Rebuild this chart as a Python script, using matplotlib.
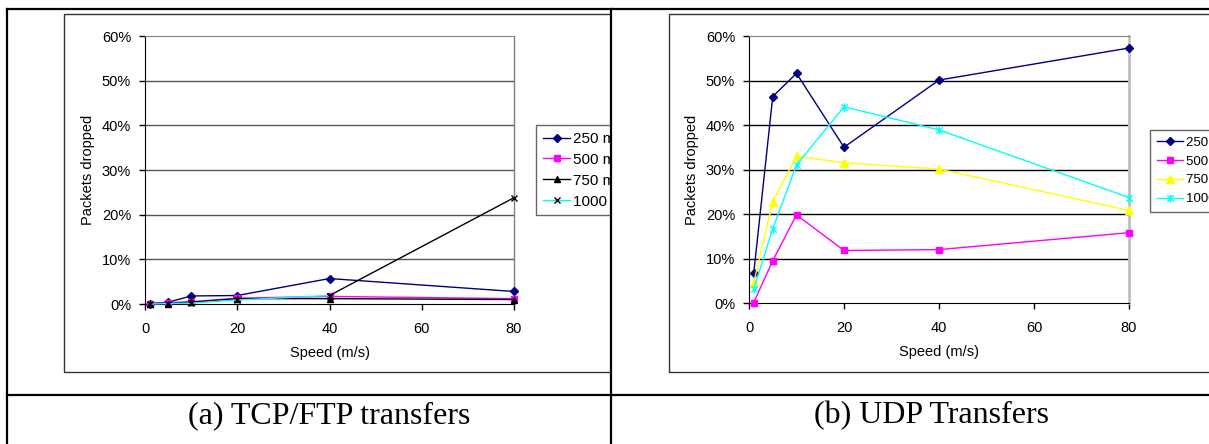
import matplotlib
matplotlib.use("Agg")
import matplotlib.pyplot as plt
from matplotlib.lines import Line2D
from matplotlib.patches import Rectangle
from matplotlib.path import Path
from matplotlib.ticker import FuncFormatter

# speeds (m/s) and packet loss (%) per transmission range
speeds = [1, 5, 10, 20, 40, 80]
ranges = ["250 m", "500 m", "750 m", "1000 m"]

tcp_250 = [0.1, 0.4, 1.8, 1.9, 5.7, 2.8]
tcp_500 = [0.1, 0.3, 0.5, 1.3, 1.7, 1.2]
tcp_750 = [0.0, 0.1, 0.4, 1.2, 1.2, 1.0]
tcp_1000 = [0.0, 0.1, 0.2, 0.9, 1.9, 23.8]

udp_250 = [6.7, 46.4, 51.6, 35.0, 50.1, 57.3]
udp_500 = [0.1, 9.5, 19.8, 11.8, 12.0, 15.8]
udp_750 = [4.6, 22.8, 33.0, 31.5, 30.1, 20.8]
udp_1000 = [3.1, 16.7, 31.0, 44.1, 38.9, 23.7]

captions = ["(a) TCP/FTP transfers", "(b) UDP Transfers"]

W, H = 1209, 444
plt.rcParams['font.family'] = ['Liberation Sans', 'DejaVu Sans']

fig = plt.figure(figsize=(W / 100, H / 100), dpi=100)


def fx(px):
    return px / W


def fy(py):
    return 1 - py / H


# Excel style "star" marker: an x with a vertical bar through it
star = Path([(-1, -1), (1, 1), (-1, 1), (1, -1), (0, -1.3), (0, 1.3)],
            [Path.MOVETO, Path.LINETO, Path.MOVETO, Path.LINETO, Path.MOVETO, Path.LINETO])


def style_axes(ax, grid_color, right_color, right_lw):
    ax.set_xlim(0, 80)
    ax.set_ylim(0, 60)
    ax.set_xticks([0, 20, 40, 60, 80])
    ax.set_yticks(range(0, 61, 10))
    ax.yaxis.set_major_formatter(FuncFormatter(lambda v, p: f"{v:.0f}%"))
    ax.tick_params(direction='out', length=4, width=1, labelsize=10.5, pad=6)
    ax.tick_params(axis='x', pad=9)
    for y in range(10, 60, 10):
        ax.axhline(y, color=grid_color, lw=1, zorder=1)
    ax.spines['left'].set_color('black')
    ax.spines['bottom'].set_color('black')
    ax.spines['top'].set_color('#808080')
    ax.spines['right'].set_color(right_color)
    ax.spines['right'].set_linewidth(right_lw)
    ax.set_xlabel("Speed (m/s)", fontsize=10.5, labelpad=7)
    ax.set_ylabel("Packets dropped", fontsize=10.5, labelpad=5)


# left chart: TCP/FTP
axL = fig.add_axes([fx(145), fy(304), fx(514) - fx(145), fy(36) - fy(304)])
style_axes(axL, '#555555', '#808080', 1)
kw = dict(lw=1, clip_on=False, zorder=3)
axL.plot(speeds, tcp_250, color='#000080', marker='D', ms=4.5, label=ranges[0], **kw)
axL.plot(speeds, tcp_500, color='#FF00FF', marker='s', ms=4.5, label=ranges[1], **kw)
axL.plot(speeds, tcp_750, color='black', marker='^', ms=5, label=ranges[2], **kw)
# last segment of the 1000 m series is drawn in black
axL.plot(speeds[:-1], tcp_1000[:-1], color='#00FFFF', marker='x', ms=5, mec='black', mew=1,
         label=ranges[3], **kw)
axL.plot(speeds[-2:], tcp_1000[-2:], color='black', marker='x', ms=5, **kw)
axL.legend(loc='upper left', bbox_to_anchor=(fx(536), fy(125)),
           bbox_transform=fig.transFigure, fontsize=11, frameon=True, fancybox=False,
           edgecolor='#404040', handlelength=1.8, handletextpad=0.2, labelspacing=0.45,
           borderpad=0.45, borderaxespad=0).get_frame().set_linewidth(1)

# right chart: UDP
axR = fig.add_axes([fx(749), fy(303), fx(1129) - fx(749), fy(36) - fy(303)])
style_axes(axR, 'black', '#C0C0C0', 2)
axR.plot(speeds, udp_250, color='#000080', marker='D', ms=4.5, label=ranges[0], **kw)
axR.plot(speeds, udp_500, color='#FF00FF', marker='s', ms=4.5, label=ranges[1], **kw)
axR.plot(speeds, udp_750, color='#FFFF00', marker='^', ms=5.5, label=ranges[2], **kw)
axR.plot(speeds, udp_1000, color='#00FFFF', marker=star, ms=6, mew=1, label=ranges[3], **kw)
axR.legend(loc='upper left', bbox_to_anchor=(fx(1150), fy(130)),
           bbox_transform=fig.transFigure, fontsize=9.5, frameon=True, fancybox=False,
           edgecolor='#404040', handlelength=2.0, handletextpad=0.2, labelspacing=0.5,
           borderpad=0.5, borderaxespad=0).get_frame().set_linewidth(1)

# chart frames
fig.add_artist(Rectangle((fx(64), fy(372)), fx(611) - fx(64), fy(14) - fy(372),
                         transform=fig.transFigure, fill=False, ec='#333333', lw=1, zorder=5))
fig.add_artist(Rectangle((fx(669), fy(372)), fx(1215) - fx(669), fy(14) - fy(372),
                         transform=fig.transFigure, fill=False, ec='#333333', lw=1, zorder=5))
# blank strip of the right cell hiding the overflowing left legend
fig.add_artist(Rectangle((fx(612), fy(394)), fx(668) - fx(612), fy(10) - fy(394),
                         transform=fig.transFigure, fc='white', ec='none', zorder=6))

# table rules
tbl = dict(transform=fig.transFigure, color='black', lw=1.6, zorder=10)
fig.add_artist(Line2D([fx(7), fx(1215)], [fy(9), fy(9)], **tbl))
fig.add_artist(Line2D([fx(7), fx(1215)], [fy(395), fy(395)], **tbl))
fig.add_artist(Line2D([fx(7), fx(7)], [fy(9), fy(450)], **tbl))
fig.add_artist(Line2D([fx(611), fx(611)], [fy(9), fy(450)], **tbl))

fig.text(fx(329), fy(416), captions[0], ha='center', va='center', fontsize=23,
         family='Liberation Serif')
fig.text(fx(932), fy(416), captions[1], ha='center', va='center', fontsize=23,
         family='Liberation Serif')

fig.savefig("out.png", dpi=100)
